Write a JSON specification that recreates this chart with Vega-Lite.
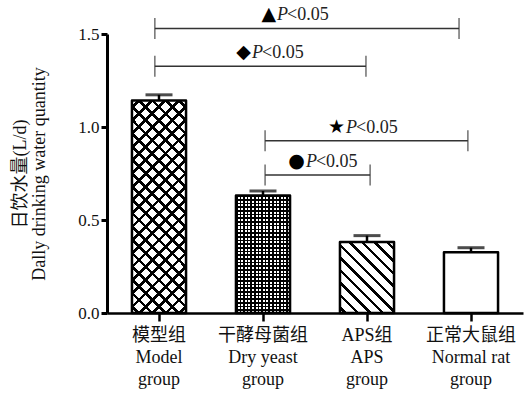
{
  "$schema": "https://vega.github.io/schema/vega-lite/v6.json",
  "width": 416,
  "height": 279,
  "autosize": "none",
  "padding": {"left": 107, "top": 34, "right": 4, "bottom": 81},
  "background": "white",
  "datasets": {
    "bars": [
      {"group": "模型组|Model|group", "key": "model", "value": 1.142, "upper": 1.173},
      {"group": "干酵母菌组|Dry yeast|group", "key": "yeast", "value": 0.632, "upper": 0.656},
      {"group": "APS组|APS|group", "key": "aps", "value": 0.382, "upper": 0.416},
      {"group": "正常大鼠组|Normal rat|group", "key": "normal", "value": 0.326, "upper": 0.351}
    ],
    "ann": [
      {"sym": "▲", "from": -0.04, "to": 2.885, "y": 1.53, "px": 1.135},
      {"sym": "◆", "from": -0.04, "to": 1.99, "y": 1.326, "px": 0.894},
      {"sym": "★", "from": 1.02, "to": 2.97, "y": 0.926, "px": 1.798},
      {"sym": "●", "from": 1.02, "to": 2.03, "y": 0.742, "px": 1.413}
    ]
  },
  "layer": [
    {
      "data": {"name": "bars"},
      "encoding": {
        "x": {
          "field": "group", "type": "nominal", "sort": null, "title": null,
          "scale": {"type": "band", "domain": ["模型组|Model|group", "干酵母菌组|Dry yeast|group", "APS组|APS|group", "正常大鼠组|Normal rat|group"], "paddingInner": 0.48, "paddingOuter": 0.24},
          "axis": {
            "labelExpr": "split(datum.label, '|')",
            "labelAngle": 0, "labelFont": "Liberation Serif, Noto Sans CJK SC", "labelFontSize": 18, "labelLineHeight": 22,
            "labelColor": "#111", "labelPadding": 5, "labelBaseline": "top",
            "tickSize": 8, "tickWidth": 2.5, "tickColor": "black", "domainWidth": 2.5, "domainColor": "black", "grid": false
          }
        }
      },
      "layer": [
        {
          "transform": [{"filter": "datum.key == 'model'"}],
          "mark": {"type": "bar", "fill": {"gradient": "linear", "x1": 0, "y1": 1, "x2": 0.3, "y2": -0.178, "stops": [
            {"offset": 0.018, "color": "white"}, {"offset": 0.018, "color": "black"}, {"offset": 0.032, "color": "black"}, {"offset": 0.032, "color": "white"},
            {"offset": 0.068, "color": "white"}, {"offset": 0.068, "color": "black"}, {"offset": 0.082, "color": "black"}, {"offset": 0.082, "color": "white"},
            {"offset": 0.118, "color": "white"}, {"offset": 0.118, "color": "black"}, {"offset": 0.132, "color": "black"}, {"offset": 0.132, "color": "white"},
            {"offset": 0.168, "color": "white"}, {"offset": 0.168, "color": "black"}, {"offset": 0.182, "color": "black"}, {"offset": 0.182, "color": "white"},
            {"offset": 0.218, "color": "white"}, {"offset": 0.218, "color": "black"}, {"offset": 0.232, "color": "black"}, {"offset": 0.232, "color": "white"},
            {"offset": 0.268, "color": "white"}, {"offset": 0.268, "color": "black"}, {"offset": 0.282, "color": "black"}, {"offset": 0.282, "color": "white"},
            {"offset": 0.318, "color": "white"}, {"offset": 0.318, "color": "black"}, {"offset": 0.332, "color": "black"}, {"offset": 0.332, "color": "white"},
            {"offset": 0.368, "color": "white"}, {"offset": 0.368, "color": "black"}, {"offset": 0.382, "color": "black"}, {"offset": 0.382, "color": "white"},
            {"offset": 0.418, "color": "white"}, {"offset": 0.418, "color": "black"}, {"offset": 0.432, "color": "black"}, {"offset": 0.432, "color": "white"},
            {"offset": 0.468, "color": "white"}, {"offset": 0.468, "color": "black"}, {"offset": 0.482, "color": "black"}, {"offset": 0.482, "color": "white"},
            {"offset": 0.518, "color": "white"}, {"offset": 0.518, "color": "black"}, {"offset": 0.532, "color": "black"}, {"offset": 0.532, "color": "white"},
            {"offset": 0.568, "color": "white"}, {"offset": 0.568, "color": "black"}, {"offset": 0.582, "color": "black"}, {"offset": 0.582, "color": "white"},
            {"offset": 0.618, "color": "white"}, {"offset": 0.618, "color": "black"}, {"offset": 0.632, "color": "black"}, {"offset": 0.632, "color": "white"},
            {"offset": 0.668, "color": "white"}, {"offset": 0.668, "color": "black"}, {"offset": 0.682, "color": "black"}, {"offset": 0.682, "color": "white"},
            {"offset": 0.718, "color": "white"}, {"offset": 0.718, "color": "black"}, {"offset": 0.732, "color": "black"}, {"offset": 0.732, "color": "white"},
            {"offset": 0.768, "color": "white"}, {"offset": 0.768, "color": "black"}, {"offset": 0.782, "color": "black"}, {"offset": 0.782, "color": "white"},
            {"offset": 0.818, "color": "white"}, {"offset": 0.818, "color": "black"}, {"offset": 0.832, "color": "black"}, {"offset": 0.832, "color": "white"},
            {"offset": 0.868, "color": "white"}, {"offset": 0.868, "color": "black"}, {"offset": 0.882, "color": "black"}, {"offset": 0.882, "color": "white"},
            {"offset": 0.918, "color": "white"}, {"offset": 0.918, "color": "black"}, {"offset": 0.932, "color": "black"}, {"offset": 0.932, "color": "white"},
            {"offset": 0.968, "color": "white"}, {"offset": 0.968, "color": "black"}, {"offset": 0.982, "color": "black"}, {"offset": 0.982, "color": "white"}
          ]}},
          "encoding": {"y": {"field": "value", "type": "quantitative", "scale": {"domain": [0, 1.5], "nice": false}, "axis": {"title": ["日饮水量(L/d)", "Dally drinking water quantity"], "values": [0, 0.5, 1.0, 1.5], "format": ".1f"}}}
        },
        {
          "transform": [{"filter": "datum.key == 'model'"}],
          "mark": {"type": "bar", "fill": {"gradient": "linear", "x1": 0, "y1": 0, "x2": 0.3, "y2": 1.178, "stops": [
            {"offset": 0.018, "color": "rgba(255,255,255,0)"}, {"offset": 0.018, "color": "black"}, {"offset": 0.032, "color": "black"}, {"offset": 0.032, "color": "rgba(255,255,255,0)"},
            {"offset": 0.068, "color": "rgba(255,255,255,0)"}, {"offset": 0.068, "color": "black"}, {"offset": 0.082, "color": "black"}, {"offset": 0.082, "color": "rgba(255,255,255,0)"},
            {"offset": 0.118, "color": "rgba(255,255,255,0)"}, {"offset": 0.118, "color": "black"}, {"offset": 0.132, "color": "black"}, {"offset": 0.132, "color": "rgba(255,255,255,0)"},
            {"offset": 0.168, "color": "rgba(255,255,255,0)"}, {"offset": 0.168, "color": "black"}, {"offset": 0.182, "color": "black"}, {"offset": 0.182, "color": "rgba(255,255,255,0)"},
            {"offset": 0.218, "color": "rgba(255,255,255,0)"}, {"offset": 0.218, "color": "black"}, {"offset": 0.232, "color": "black"}, {"offset": 0.232, "color": "rgba(255,255,255,0)"},
            {"offset": 0.268, "color": "rgba(255,255,255,0)"}, {"offset": 0.268, "color": "black"}, {"offset": 0.282, "color": "black"}, {"offset": 0.282, "color": "rgba(255,255,255,0)"},
            {"offset": 0.318, "color": "rgba(255,255,255,0)"}, {"offset": 0.318, "color": "black"}, {"offset": 0.332, "color": "black"}, {"offset": 0.332, "color": "rgba(255,255,255,0)"},
            {"offset": 0.368, "color": "rgba(255,255,255,0)"}, {"offset": 0.368, "color": "black"}, {"offset": 0.382, "color": "black"}, {"offset": 0.382, "color": "rgba(255,255,255,0)"},
            {"offset": 0.418, "color": "rgba(255,255,255,0)"}, {"offset": 0.418, "color": "black"}, {"offset": 0.432, "color": "black"}, {"offset": 0.432, "color": "rgba(255,255,255,0)"},
            {"offset": 0.468, "color": "rgba(255,255,255,0)"}, {"offset": 0.468, "color": "black"}, {"offset": 0.482, "color": "black"}, {"offset": 0.482, "color": "rgba(255,255,255,0)"},
            {"offset": 0.518, "color": "rgba(255,255,255,0)"}, {"offset": 0.518, "color": "black"}, {"offset": 0.532, "color": "black"}, {"offset": 0.532, "color": "rgba(255,255,255,0)"},
            {"offset": 0.568, "color": "rgba(255,255,255,0)"}, {"offset": 0.568, "color": "black"}, {"offset": 0.582, "color": "black"}, {"offset": 0.582, "color": "rgba(255,255,255,0)"},
            {"offset": 0.618, "color": "rgba(255,255,255,0)"}, {"offset": 0.618, "color": "black"}, {"offset": 0.632, "color": "black"}, {"offset": 0.632, "color": "rgba(255,255,255,0)"},
            {"offset": 0.668, "color": "rgba(255,255,255,0)"}, {"offset": 0.668, "color": "black"}, {"offset": 0.682, "color": "black"}, {"offset": 0.682, "color": "rgba(255,255,255,0)"},
            {"offset": 0.718, "color": "rgba(255,255,255,0)"}, {"offset": 0.718, "color": "black"}, {"offset": 0.732, "color": "black"}, {"offset": 0.732, "color": "rgba(255,255,255,0)"},
            {"offset": 0.768, "color": "rgba(255,255,255,0)"}, {"offset": 0.768, "color": "black"}, {"offset": 0.782, "color": "black"}, {"offset": 0.782, "color": "rgba(255,255,255,0)"},
            {"offset": 0.818, "color": "rgba(255,255,255,0)"}, {"offset": 0.818, "color": "black"}, {"offset": 0.832, "color": "black"}, {"offset": 0.832, "color": "rgba(255,255,255,0)"},
            {"offset": 0.868, "color": "rgba(255,255,255,0)"}, {"offset": 0.868, "color": "black"}, {"offset": 0.882, "color": "black"}, {"offset": 0.882, "color": "rgba(255,255,255,0)"},
            {"offset": 0.918, "color": "rgba(255,255,255,0)"}, {"offset": 0.918, "color": "black"}, {"offset": 0.932, "color": "black"}, {"offset": 0.932, "color": "rgba(255,255,255,0)"},
            {"offset": 0.968, "color": "rgba(255,255,255,0)"}, {"offset": 0.968, "color": "black"}, {"offset": 0.982, "color": "black"}, {"offset": 0.982, "color": "rgba(255,255,255,0)"}
          ]}},
          "encoding": {"y": {"field": "value", "type": "quantitative", "scale": {"domain": [0, 1.5], "nice": false}, "axis": {"title": ["日饮水量(L/d)", "Dally drinking water quantity"], "values": [0, 0.5, 1.0, 1.5], "format": ".1f"}}}
        },
        {
          "transform": [{"filter": "datum.key == 'yeast'"}],
          "mark": {"type": "bar", "fill": {"gradient": "linear", "x1": 0, "y1": 0, "x2": 1, "y2": 0, "stops": [
            {"offset": 0.0, "color": "black"}, {"offset": 0.03, "color": "black"}, {"offset": 0.03, "color": "white"},
            {"offset": 0.0667, "color": "white"}, {"offset": 0.0667, "color": "black"}, {"offset": 0.0967, "color": "black"}, {"offset": 0.0967, "color": "white"},
            {"offset": 0.1333, "color": "white"}, {"offset": 0.1333, "color": "black"}, {"offset": 0.1633, "color": "black"}, {"offset": 0.1633, "color": "white"},
            {"offset": 0.2, "color": "white"}, {"offset": 0.2, "color": "black"}, {"offset": 0.23, "color": "black"}, {"offset": 0.23, "color": "white"},
            {"offset": 0.2667, "color": "white"}, {"offset": 0.2667, "color": "black"}, {"offset": 0.2967, "color": "black"}, {"offset": 0.2967, "color": "white"},
            {"offset": 0.3333, "color": "white"}, {"offset": 0.3333, "color": "black"}, {"offset": 0.3633, "color": "black"}, {"offset": 0.3633, "color": "white"},
            {"offset": 0.4, "color": "white"}, {"offset": 0.4, "color": "black"}, {"offset": 0.43, "color": "black"}, {"offset": 0.43, "color": "white"},
            {"offset": 0.4667, "color": "white"}, {"offset": 0.4667, "color": "black"}, {"offset": 0.4967, "color": "black"}, {"offset": 0.4967, "color": "white"},
            {"offset": 0.5333, "color": "white"}, {"offset": 0.5333, "color": "black"}, {"offset": 0.5633, "color": "black"}, {"offset": 0.5633, "color": "white"},
            {"offset": 0.6, "color": "white"}, {"offset": 0.6, "color": "black"}, {"offset": 0.63, "color": "black"}, {"offset": 0.63, "color": "white"},
            {"offset": 0.6667, "color": "white"}, {"offset": 0.6667, "color": "black"}, {"offset": 0.6967, "color": "black"}, {"offset": 0.6967, "color": "white"},
            {"offset": 0.7333, "color": "white"}, {"offset": 0.7333, "color": "black"}, {"offset": 0.7633, "color": "black"}, {"offset": 0.7633, "color": "white"},
            {"offset": 0.8, "color": "white"}, {"offset": 0.8, "color": "black"}, {"offset": 0.83, "color": "black"}, {"offset": 0.83, "color": "white"},
            {"offset": 0.8667, "color": "white"}, {"offset": 0.8667, "color": "black"}, {"offset": 0.8967, "color": "black"}, {"offset": 0.8967, "color": "white"},
            {"offset": 0.9333, "color": "white"}, {"offset": 0.9333, "color": "black"}, {"offset": 0.9633, "color": "black"}, {"offset": 0.9633, "color": "white"}
          ]}},
          "encoding": {"y": {"field": "value", "type": "quantitative", "scale": {"domain": [0, 1.5], "nice": false}, "axis": {"title": ["日饮水量(L/d)", "Dally drinking water quantity"], "values": [0, 0.5, 1.0, 1.5], "format": ".1f"}}}
        },
        {
          "transform": [{"filter": "datum.key == 'yeast'"}],
          "mark": {"type": "bar", "fill": {"gradient": "linear", "x1": 0, "y1": 0, "x2": 0, "y2": 1, "stops": [
            {"offset": 0.0, "color": "black"}, {"offset": 0.014, "color": "black"}, {"offset": 0.014, "color": "rgba(255,255,255,0)"},
            {"offset": 0.03125, "color": "rgba(255,255,255,0)"}, {"offset": 0.03125, "color": "black"}, {"offset": 0.04525, "color": "black"}, {"offset": 0.04525, "color": "rgba(255,255,255,0)"},
            {"offset": 0.0625, "color": "rgba(255,255,255,0)"}, {"offset": 0.0625, "color": "black"}, {"offset": 0.0765, "color": "black"}, {"offset": 0.0765, "color": "rgba(255,255,255,0)"},
            {"offset": 0.09375, "color": "rgba(255,255,255,0)"}, {"offset": 0.09375, "color": "black"}, {"offset": 0.10775, "color": "black"}, {"offset": 0.10775, "color": "rgba(255,255,255,0)"},
            {"offset": 0.125, "color": "rgba(255,255,255,0)"}, {"offset": 0.125, "color": "black"}, {"offset": 0.139, "color": "black"}, {"offset": 0.139, "color": "rgba(255,255,255,0)"},
            {"offset": 0.15625, "color": "rgba(255,255,255,0)"}, {"offset": 0.15625, "color": "black"}, {"offset": 0.17025, "color": "black"}, {"offset": 0.17025, "color": "rgba(255,255,255,0)"},
            {"offset": 0.1875, "color": "rgba(255,255,255,0)"}, {"offset": 0.1875, "color": "black"}, {"offset": 0.2015, "color": "black"}, {"offset": 0.2015, "color": "rgba(255,255,255,0)"},
            {"offset": 0.21875, "color": "rgba(255,255,255,0)"}, {"offset": 0.21875, "color": "black"}, {"offset": 0.23275, "color": "black"}, {"offset": 0.23275, "color": "rgba(255,255,255,0)"},
            {"offset": 0.25, "color": "rgba(255,255,255,0)"}, {"offset": 0.25, "color": "black"}, {"offset": 0.264, "color": "black"}, {"offset": 0.264, "color": "rgba(255,255,255,0)"},
            {"offset": 0.28125, "color": "rgba(255,255,255,0)"}, {"offset": 0.28125, "color": "black"}, {"offset": 0.29525, "color": "black"}, {"offset": 0.29525, "color": "rgba(255,255,255,0)"},
            {"offset": 0.3125, "color": "rgba(255,255,255,0)"}, {"offset": 0.3125, "color": "black"}, {"offset": 0.3265, "color": "black"}, {"offset": 0.3265, "color": "rgba(255,255,255,0)"},
            {"offset": 0.34375, "color": "rgba(255,255,255,0)"}, {"offset": 0.34375, "color": "black"}, {"offset": 0.35775, "color": "black"}, {"offset": 0.35775, "color": "rgba(255,255,255,0)"},
            {"offset": 0.375, "color": "rgba(255,255,255,0)"}, {"offset": 0.375, "color": "black"}, {"offset": 0.389, "color": "black"}, {"offset": 0.389, "color": "rgba(255,255,255,0)"},
            {"offset": 0.40625, "color": "rgba(255,255,255,0)"}, {"offset": 0.40625, "color": "black"}, {"offset": 0.42025, "color": "black"}, {"offset": 0.42025, "color": "rgba(255,255,255,0)"},
            {"offset": 0.4375, "color": "rgba(255,255,255,0)"}, {"offset": 0.4375, "color": "black"}, {"offset": 0.4515, "color": "black"}, {"offset": 0.4515, "color": "rgba(255,255,255,0)"},
            {"offset": 0.46875, "color": "rgba(255,255,255,0)"}, {"offset": 0.46875, "color": "black"}, {"offset": 0.48275, "color": "black"}, {"offset": 0.48275, "color": "rgba(255,255,255,0)"},
            {"offset": 0.5, "color": "rgba(255,255,255,0)"}, {"offset": 0.5, "color": "black"}, {"offset": 0.514, "color": "black"}, {"offset": 0.514, "color": "rgba(255,255,255,0)"},
            {"offset": 0.53125, "color": "rgba(255,255,255,0)"}, {"offset": 0.53125, "color": "black"}, {"offset": 0.54525, "color": "black"}, {"offset": 0.54525, "color": "rgba(255,255,255,0)"},
            {"offset": 0.5625, "color": "rgba(255,255,255,0)"}, {"offset": 0.5625, "color": "black"}, {"offset": 0.5765, "color": "black"}, {"offset": 0.5765, "color": "rgba(255,255,255,0)"},
            {"offset": 0.59375, "color": "rgba(255,255,255,0)"}, {"offset": 0.59375, "color": "black"}, {"offset": 0.60775, "color": "black"}, {"offset": 0.60775, "color": "rgba(255,255,255,0)"},
            {"offset": 0.625, "color": "rgba(255,255,255,0)"}, {"offset": 0.625, "color": "black"}, {"offset": 0.639, "color": "black"}, {"offset": 0.639, "color": "rgba(255,255,255,0)"},
            {"offset": 0.65625, "color": "rgba(255,255,255,0)"}, {"offset": 0.65625, "color": "black"}, {"offset": 0.67025, "color": "black"}, {"offset": 0.67025, "color": "rgba(255,255,255,0)"},
            {"offset": 0.6875, "color": "rgba(255,255,255,0)"}, {"offset": 0.6875, "color": "black"}, {"offset": 0.7015, "color": "black"}, {"offset": 0.7015, "color": "rgba(255,255,255,0)"},
            {"offset": 0.71875, "color": "rgba(255,255,255,0)"}, {"offset": 0.71875, "color": "black"}, {"offset": 0.73275, "color": "black"}, {"offset": 0.73275, "color": "rgba(255,255,255,0)"},
            {"offset": 0.75, "color": "rgba(255,255,255,0)"}, {"offset": 0.75, "color": "black"}, {"offset": 0.764, "color": "black"}, {"offset": 0.764, "color": "rgba(255,255,255,0)"},
            {"offset": 0.78125, "color": "rgba(255,255,255,0)"}, {"offset": 0.78125, "color": "black"}, {"offset": 0.79525, "color": "black"}, {"offset": 0.79525, "color": "rgba(255,255,255,0)"},
            {"offset": 0.8125, "color": "rgba(255,255,255,0)"}, {"offset": 0.8125, "color": "black"}, {"offset": 0.8265, "color": "black"}, {"offset": 0.8265, "color": "rgba(255,255,255,0)"},
            {"offset": 0.84375, "color": "rgba(255,255,255,0)"}, {"offset": 0.84375, "color": "black"}, {"offset": 0.85775, "color": "black"}, {"offset": 0.85775, "color": "rgba(255,255,255,0)"},
            {"offset": 0.875, "color": "rgba(255,255,255,0)"}, {"offset": 0.875, "color": "black"}, {"offset": 0.889, "color": "black"}, {"offset": 0.889, "color": "rgba(255,255,255,0)"},
            {"offset": 0.90625, "color": "rgba(255,255,255,0)"}, {"offset": 0.90625, "color": "black"}, {"offset": 0.92025, "color": "black"}, {"offset": 0.92025, "color": "rgba(255,255,255,0)"},
            {"offset": 0.9375, "color": "rgba(255,255,255,0)"}, {"offset": 0.9375, "color": "black"}, {"offset": 0.9515, "color": "black"}, {"offset": 0.9515, "color": "rgba(255,255,255,0)"},
            {"offset": 0.96875, "color": "rgba(255,255,255,0)"}, {"offset": 0.96875, "color": "black"}, {"offset": 0.98275, "color": "black"}, {"offset": 0.98275, "color": "rgba(255,255,255,0)"}
          ]}},
          "encoding": {"y": {"field": "value", "type": "quantitative", "scale": {"domain": [0, 1.5], "nice": false}, "axis": {"title": ["日饮水量(L/d)", "Dally drinking water quantity"], "values": [0, 0.5, 1.0, 1.5], "format": ".1f"}}}
        },
        {
          "transform": [{"filter": "datum.key == 'aps'"}],
          "mark": {"type": "bar", "fill": {"gradient": "linear", "x1": 0, "y1": 1, "x2": 0.8487, "y2": -0.1152, "stops": [
            {"offset": 0.03, "color": "white"}, {"offset": 0.03, "color": "black"}, {"offset": 0.058, "color": "black"}, {"offset": 0.058, "color": "white"},
            {"offset": 0.13, "color": "white"}, {"offset": 0.13, "color": "black"}, {"offset": 0.158, "color": "black"}, {"offset": 0.158, "color": "white"},
            {"offset": 0.23, "color": "white"}, {"offset": 0.23, "color": "black"}, {"offset": 0.258, "color": "black"}, {"offset": 0.258, "color": "white"},
            {"offset": 0.33, "color": "white"}, {"offset": 0.33, "color": "black"}, {"offset": 0.358, "color": "black"}, {"offset": 0.358, "color": "white"},
            {"offset": 0.43, "color": "white"}, {"offset": 0.43, "color": "black"}, {"offset": 0.458, "color": "black"}, {"offset": 0.458, "color": "white"},
            {"offset": 0.53, "color": "white"}, {"offset": 0.53, "color": "black"}, {"offset": 0.558, "color": "black"}, {"offset": 0.558, "color": "white"},
            {"offset": 0.63, "color": "white"}, {"offset": 0.63, "color": "black"}, {"offset": 0.658, "color": "black"}, {"offset": 0.658, "color": "white"},
            {"offset": 0.73, "color": "white"}, {"offset": 0.73, "color": "black"}, {"offset": 0.758, "color": "black"}, {"offset": 0.758, "color": "white"},
            {"offset": 0.83, "color": "white"}, {"offset": 0.83, "color": "black"}, {"offset": 0.858, "color": "black"}, {"offset": 0.858, "color": "white"},
            {"offset": 0.93, "color": "white"}, {"offset": 0.93, "color": "black"}, {"offset": 0.958, "color": "black"}, {"offset": 0.958, "color": "white"}
          ]}},
          "encoding": {"y": {"field": "value", "type": "quantitative", "scale": {"domain": [0, 1.5], "nice": false}, "axis": {"title": ["日饮水量(L/d)", "Dally drinking water quantity"], "values": [0, 0.5, 1.0, 1.5], "format": ".1f"}}}
        },
        {
          "mark": {"type": "bar", "fillOpacity": 0, "stroke": "black", "strokeWidth": 2.5, "strokeJoin": "round"},
          "encoding": {"y": {"field": "value", "type": "quantitative", "scale": {"domain": [0, 1.5], "nice": false}, "axis": {"title": ["日饮水量(L/d)", "Dally drinking water quantity"], "values": [0, 0.5, 1.0, 1.5], "format": ".1f"}}}
        },
        {
          "mark": {"type": "rule", "color": "black", "strokeWidth": 2.5},
          "encoding": {
            "y": {"field": "value", "type": "quantitative", "scale": {"domain": [0, 1.5], "nice": false}, "axis": {"title": ["日饮水量(L/d)", "Dally drinking water quantity"], "values": [0, 0.5, 1.0, 1.5], "format": ".1f"}},
            "y2": {"field": "upper"}
          }
        },
        {
          "mark": {"type": "tick", "orient": "horizontal", "color": "black", "size": 27, "thickness": 3},
          "encoding": {"y": {"field": "upper", "type": "quantitative", "scale": {"domain": [0, 1.5], "nice": false}, "axis": {"title": ["日饮水量(L/d)", "Dally drinking water quantity"], "values": [0, 0.5, 1.0, 1.5], "format": ".1f"}}}
        }
      ]
    },
    {
      "data": {"name": "ann"},
      "layer": [
        {
          "mark": {"type": "rule", "color": "#333", "strokeWidth": 1.5},
          "encoding": {
            "x": {"field": "from", "type": "quantitative", "scale": {"domain": [-0.5, 3.5], "nice": false, "zero": false}, "axis": null},
            "x2": {"field": "to"},
            "y": {"field": "y", "type": "quantitative", "scale": {"domain": [0, 1.5], "nice": false}, "axis": {"title": ["日饮水量(L/d)", "Dally drinking water quantity"], "values": [0, 0.5, 1.0, 1.5], "format": ".1f"}}
          }
        },
        {
          "mark": {"type": "tick", "orient": "vertical", "color": "#333", "size": 21, "thickness": 1.5},
          "encoding": {
            "x": {"field": "from", "type": "quantitative", "scale": {"domain": [-0.5, 3.5], "nice": false, "zero": false}, "axis": null},
            "y": {"field": "y", "type": "quantitative", "scale": {"domain": [0, 1.5], "nice": false}, "axis": {"title": ["日饮水量(L/d)", "Dally drinking water quantity"], "values": [0, 0.5, 1.0, 1.5], "format": ".1f"}}
          }
        },
        {
          "mark": {"type": "tick", "orient": "vertical", "color": "#333", "size": 21, "thickness": 1.5},
          "encoding": {
            "x": {"field": "to", "type": "quantitative", "scale": {"domain": [-0.5, 3.5], "nice": false, "zero": false}, "axis": null},
            "y": {"field": "y", "type": "quantitative", "scale": {"domain": [0, 1.5], "nice": false}, "axis": {"title": ["日饮水量(L/d)", "Dally drinking water quantity"], "values": [0, 0.5, 1.0, 1.5], "format": ".1f"}}
          }
        },
        {
          "mark": {"type": "text", "align": "right", "baseline": "alphabetic", "dx": -1, "dy": -8, "font": "DejaVu Sans", "fontSize": 19, "color": "black"},
          "encoding": {
            "x": {"field": "px", "type": "quantitative", "scale": {"domain": [-0.5, 3.5], "nice": false, "zero": false}, "axis": null},
            "y": {"field": "y", "type": "quantitative", "scale": {"domain": [0, 1.5], "nice": false}, "axis": {"title": ["日饮水量(L/d)", "Dally drinking water quantity"], "values": [0, 0.5, 1.0, 1.5], "format": ".1f"}},
            "text": {"field": "sym"}
          }
        },
        {
          "mark": {"type": "text", "align": "left", "baseline": "alphabetic", "dy": -8, "font": "Liberation Serif", "fontStyle": "italic", "fontSize": 18, "color": "#222"},
          "encoding": {
            "x": {"field": "px", "type": "quantitative", "scale": {"domain": [-0.5, 3.5], "nice": false, "zero": false}, "axis": null},
            "y": {"field": "y", "type": "quantitative", "scale": {"domain": [0, 1.5], "nice": false}, "axis": {"title": ["日饮水量(L/d)", "Dally drinking water quantity"], "values": [0, 0.5, 1.0, 1.5], "format": ".1f"}},
            "text": {"value": "P"}
          }
        },
        {
          "mark": {"type": "text", "align": "left", "baseline": "alphabetic", "dx": 10, "dy": -8, "font": "Liberation Serif", "fontSize": 18, "color": "#222"},
          "encoding": {
            "x": {"field": "px", "type": "quantitative", "scale": {"domain": [-0.5, 3.5], "nice": false, "zero": false}, "axis": null},
            "y": {"field": "y", "type": "quantitative", "scale": {"domain": [0, 1.5], "nice": false}, "axis": {"title": ["日饮水量(L/d)", "Dally drinking water quantity"], "values": [0, 0.5, 1.0, 1.5], "format": ".1f"}},
            "text": {"value": "<0.05"}
          }
        }
      ]
    }
  ],
  "resolve": {"scale": {"x": "independent"}},
  "config": {
    "view": {"stroke": null},
    "font": "Liberation Serif",
    "axisY": {
      "titleFont": "Liberation Serif, Noto Sans CJK SC", "titleFontSize": 18, "titleFontWeight": "normal", "titleLineHeight": 19,
      "titleColor": "#111", "titleAngle": -90, "titleX": -96, "titleY": 139.5, "titleAlign": "center", "titleBaseline": "top",
      "labelFont": "Liberation Serif", "labelFontSize": 17, "labelColor": "#111", "labelPadding": 2,
      "tickSize": 6, "tickWidth": 3, "tickColor": "black", "domainWidth": 3, "domainColor": "black", "grid": false
    }
  }
}
